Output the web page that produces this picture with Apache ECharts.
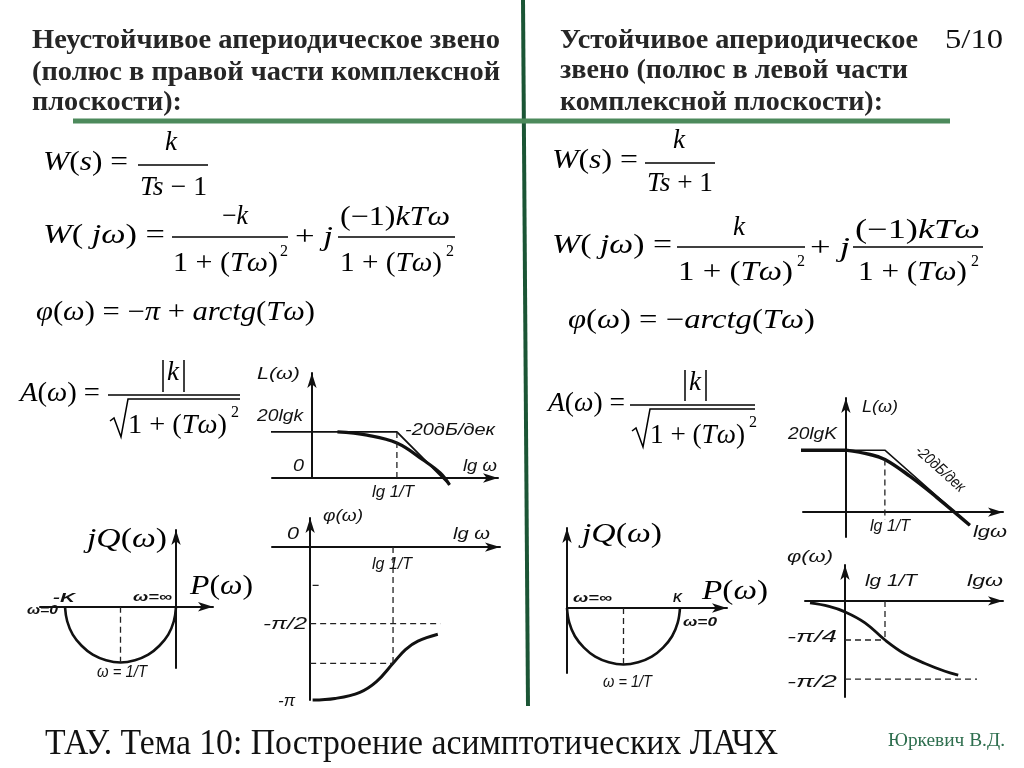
<!DOCTYPE html>
<html>
<head>
<meta charset="utf-8">
<script src="https://cdn.jsdelivr.net/npm/echarts@6/dist/echarts.min.js"></script>
<style>
  html, body { margin: 0; padding: 0; background: #fff; }
  #main { width: 1024px; height: 768px; }
</style>
</head>
<body>
<div id="main"></div>
<script>
// ---- данные ----
// неустойчивое звено (левая колонка)
const lafcUnstAsym  = [[-0.52, 1], [1, 1], [1.62, -0.15]];
const lafcUnstExact = [[0.3, 1], [0.65, 0.93], [1, 0.76], [1.31, 0.39], [1.51, 0.11], [1.62, -0.15]];
const lafcUnstGuide = [[1, 1], [1, 0]];

const phaseUnst = [[0.03, -1], [0.3, -0.99], [0.6, -0.95], [0.8, -0.88], [1, -0.76], [1.15, -0.67], [1.3, -0.615], [1.54, -0.57]];
const phaseUnstHalf  = [[0, -0.5], [1.57, -0.5]];
const phaseUnstThree = [[0, -0.76], [1, -0.76]];
const phaseUnstVert  = [[1, 0], [1, -0.76]];
const phaseUnstTick  = [[0.03, -0.25], [0.15, -0.25]];

const nyqUnst = [[-1, 0], [-0.98, -0.13], [-0.93, -0.25], [-0.85, -0.35], [-0.75, -0.43], [-0.63, -0.48], [-0.5, -0.5],
                 [-0.37, -0.48], [-0.25, -0.43], [-0.15, -0.35], [-0.07, -0.25], [-0.02, -0.13], [0, 0]];
const nyqUnstGuide = [[-0.5, 0], [-0.5, -0.5]];

// устойчивое звено (правая колонка)
const lafcStabFlat  = [[-1.64, 1], [0, 1]];
const lafcStabExact = [[0, 1], [0.62, 0.93], [1, 0.85], [1.64, 0.58], [2.33, 0.24], [3.18, -0.21]];
const lafcStabAsym  = [[0, 1], [1, 1], [3.18, -0.21]];
const lafcStabGuide = [[1, 0.85], [1, -0.12]];

const phaseStab = [[-0.875, -0.013], [-0.4, -0.035], [0, -0.07], [0.5, -0.14], [1, -0.25], [1.5, -0.34], [2, -0.4], [2.5, -0.45], [2.83, -0.475]];
const phaseStabQuarter = [[0, -0.25], [1, -0.25]];
const phaseStabVert    = [[1, 0], [1, -0.25]];
const phaseStabHalf    = [[0, -0.5], [3.3, -0.5]];

const nyqStab = [[0, 0], [0.02, -0.13], [0.07, -0.25], [0.15, -0.35], [0.25, -0.43], [0.37, -0.48], [0.5, -0.5],
                 [0.63, -0.48], [0.75, -0.43], [0.85, -0.35], [0.93, -0.25], [0.98, -0.13], [1, 0]];
const nyqStabGuide = [[0.5, 0], [0.5, -0.5]];

// подписи на графиках
const phaseUnstTicks = ['0', '-π/2', '-π'];
const phaseStabTicks = ['-π/4', '-π/2'];

// ---- вспомогательное ----
const SERIF = 'Liberation Serif';
const SANS = 'Liberation Sans';
const ctx = document.createElement('canvas').getContext('2d');
function measure(font, s) { ctx.font = font; return ctx.measureText(s).width; }

// обычный текст, при необходимости ужатый до нужной ширины
function txt(x, y, s, font, target, fill, extra) {
  const w = measure(font, s);
  return Object.assign({
    type: 'text', x: x, y: y, scaleX: target ? target / w : 1,
    style: { text: s, font: font, fill: fill || '#111', align: 'left', verticalAlign: 'middle' }
  }, extra || {});
}

// формула: буквы курсивом, цифры и знаки прямо
function mathText(x, y, str, size, target) {
  const up = '()0123456789=+−-, ';
  const toks = [];
  let cur = null;
  for (const ch of str) {
    const c = up.includes(ch) ? 'r' : 'i';
    if (!cur || cur.c !== c) { cur = { c: c, s: '' }; toks.push(cur); }
    cur.s += ch;
  }
  let w = 0;
  toks.forEach(t => { w += measure((t.c === 'i' ? 'italic ' : '') + size + 'px ' + SERIF, t.s); });
  return {
    type: 'text', x: x, y: y, scaleX: target ? target / w : 1,
    style: {
      text: toks.map(t => '{' + t.c + '|' + t.s + '}').join(''),
      rich: {
        i: { fontStyle: 'italic', fontSize: size, fontFamily: SERIF, fill: '#000' },
        r: { fontSize: size, fontFamily: SERIF, fill: '#000' }
      },
      align: 'left', verticalAlign: 'middle'
    }
  };
}
function hline(x1, x2, y, w) {
  return { type: 'line', shape: { x1: x1, y1: y, x2: x2, y2: y }, style: { stroke: '#000', lineWidth: w || 1.5 } };
}
function vline(x, y1, y2, w) {
  return { type: 'line', shape: { x1: x, y1: y1, x2: x, y2: y2 }, style: { stroke: '#000', lineWidth: w || 1.5 } };
}
const LAB = 'italic 16px ' + SANS;
const SMALL = 'bold italic 13px ' + SANS;
const TITLE = 'bold 28px ' + SERIF;

// ---- оси ----
const axisLineStyle = {
  onZero: true,
  symbol: ['none', 'arrow'],
  symbolSize: [7, 15],
  lineStyle: { color: '#111', width: 2 }
};
function axis(min, max, gi) {
  return {
    type: 'value', gridIndex: gi, min: min, max: max,
    axisLine: axisLineStyle, axisTick: { show: false },
    axisLabel: { show: false }, splitLine: { show: false }
  };
}
const grids = [
  { left: 272, top: 373, width: 226, height: 105 },
  { left: 272, top: 518, width: 228, height: 182 },
  { left: 40,  top: 530, width: 173, height: 138 },
  { left: 803, top: 398, width: 200, height: 139 },
  { left: 805, top: 565, width: 198, height: 132 },
  { left: 567, top: 528, width: 160, height: 145 }
];
const xAxes = [axis(-0.47, 2.19, 0), axis(-0.46, 2.29, 1), axis(-1.225, 0.333, 2),
               axis(-1.1, 4.03, 3), axis(-1.0, 3.95, 4), axis(0, 1.416, 5)];
const yAxes = [axis(0, 2.28, 0), axis(-1, 0.19, 1), axis(-0.55, 0.69, 2),
               axis(-0.40, 1.84, 3), axis(-0.615, 0.23, 4), axis(-0.575, 0.708, 5)];

function curve(data, gi, width, smooth) {
  return {
    type: 'line', data: data, xAxisIndex: gi, yAxisIndex: gi,
    smooth: smooth ? 0.4 : false, symbol: 'none', clip: false, silent: true,
    lineStyle: { color: '#111', width: width }
  };
}
function dashed(data, gi) {
  return {
    type: 'line', data: data, xAxisIndex: gi, yAxisIndex: gi,
    symbol: 'none', clip: false, silent: true,
    lineStyle: { color: '#222', width: 1.3, type: [6, 4] }
  };
}

const series = [
  curve(lafcUnstAsym, 0, 1.8), curve(lafcUnstExact, 0, 3.2, true), dashed(lafcUnstGuide, 0),
  curve(phaseUnst, 1, 3, true), dashed(phaseUnstHalf, 1), dashed(phaseUnstThree, 1),
  dashed(phaseUnstVert, 1), dashed(phaseUnstTick, 1),
  curve(nyqUnst, 2, 2.6, true), dashed(nyqUnstGuide, 2),
  curve(lafcStabFlat, 3, 3.5), curve(lafcStabExact, 3, 3.5, true), curve(lafcStabAsym, 3, 1.5),
  dashed(lafcStabGuide, 3),
  curve(phaseStab, 4, 2.8, true), dashed(phaseStabQuarter, 4), dashed(phaseStabVert, 4), dashed(phaseStabHalf, 4),
  curve(nyqStab, 5, 2.6, true), dashed(nyqStabGuide, 5)
];

// ---- текст слайда ----
const g = [
  // зелёные линии
  { type: 'line', shape: { x1: 523, y1: 0, x2: 528, y2: 706 }, style: { stroke: '#1b5535', lineWidth: 4 } },
  { type: 'line', shape: { x1: 73, y1: 121, x2: 950, y2: 121 }, style: { stroke: '#4d8a5c', lineWidth: 5 } },

  // заголовки
  txt(32, 40.5, 'Неустойчивое апериодическое звено', TITLE, 468, '#262626'),
  txt(32, 72.5, '(полюс в правой части комплексной', TITLE, 468, '#262626'),
  txt(32, 102.5, 'плоскости):', TITLE, 150, '#262626'),
  txt(560, 40.5, 'Устойчивое апериодическое', TITLE, 358, '#262626'),
  txt(560, 70.5, 'звено (полюс в левой части', TITLE, 348, '#262626'),
  txt(560, 102.5, 'комплексной плоскости):', TITLE, 323, '#262626'),
  txt(945, 41, '5/10', '27px ' + SERIF, 58, '#111'),

  // левые формулы
  mathText(43, 162.5, 'W(s) =', 27, 85),
  mathText(165, 142.5, 'k', 27),
  hline(138, 208, 165),
  mathText(140, 187.5, 'Ts − 1', 27, 67),

  mathText(43, 235.5, 'W( jω) =', 27, 122),
  mathText(222, 216.5, '−k', 27, 26),
  hline(172, 288, 237),
  mathText(173, 263.5, '1 + (Tω)', 27, 105),
  mathText(280, 252, '2', 16),
  mathText(295, 238, '+ j', 27, 38),
  mathText(340, 217.5, '(−1)kTω', 27, 110),
  hline(338, 455, 237),
  mathText(340, 263.5, '1 + (Tω)', 27, 102),
  mathText(446, 252, '2', 16),

  mathText(36, 312.5, 'φ(ω) = −π + arctg(Tω)', 27, 279),

  mathText(20, 393.5, 'A(ω) =', 27, 80),
  vline(163, 360, 392), vline(184, 360, 392),
  mathText(167, 372.5, 'k', 27),
  hline(108, 240, 395),
  { type: 'polyline', shape: { points: [[110, 421], [114, 418], [121, 437], [128, 399], [240, 399]] }, style: { stroke: '#000', lineWidth: 1.5, fill: null } },
  mathText(128, 425.5, '1 + (Tω)', 27, 99),
  mathText(231, 413, '2', 16),

  // правые формулы
  mathText(552, 160.5, 'W(s) =', 27, 86),
  mathText(673, 140.5, 'k', 27),
  hline(645, 715, 163),
  mathText(647, 183.5, 'Ts + 1', 27, 66),

  mathText(552, 245.5, 'W( jω) =', 27, 120),
  mathText(733, 227.5, 'k', 27),
  hline(677, 805, 247),
  mathText(678, 272.5, '1 + (Tω)', 27, 115),
  mathText(797, 262, '2', 16),
  mathText(810, 249, '+ j', 27, 40),
  mathText(855, 230.5, '(−1)kTω', 27, 125),
  hline(853, 983, 247),
  mathText(858, 272.5, '1 + (Tω)', 27, 109),
  mathText(971, 262, '2', 16),

  mathText(568, 320.5, 'φ(ω) = −arctg(Tω)', 27, 247),

  mathText(548, 404, 'A(ω) =', 27, 77),
  vline(685, 370, 401), vline(706, 370, 401),
  mathText(689, 383, 'k', 27),
  hline(630, 755, 405),
  { type: 'polyline', shape: { points: [[632, 431], [636, 428], [643, 447], [650, 409], [755, 409]] }, style: { stroke: '#000', lineWidth: 1.5, fill: null } },
  mathText(650, 436, '1 + (Tω)', 27, 95),
  mathText(749, 423, '2', 16),

  // подписи: ЛАЧХ неустойчивого
  txt(257, 375, 'L(ω)', LAB, 43),
  txt(257, 417, '20lgk', LAB, 46),
  txt(293, 467, '0', LAB, 11),
  txt(405, 431, '-20дБ/дек', LAB, 90),
  txt(463, 467, 'lg ω', LAB, 34),
  txt(372, 493, 'lg 1/T', LAB, 42),
  // ФЧХ неустойчивого
  txt(287, 535, phaseUnstTicks[0], LAB, 12),
  txt(323, 517, 'φ(ω)', LAB, 40),
  txt(453, 535, 'lg ω', LAB, 37),
  txt(372, 565, 'lg 1/T', LAB, 40),
  txt(263, 625, phaseUnstTicks[1], LAB, 44),
  txt(278, 702, phaseUnstTicks[2], LAB, 17),
  // годограф неустойчивого
  mathText(87, 540, 'jQ(ω)', 28, 80),
  mathText(190, 587, 'P(ω)', 28, 63),
  txt(53, 598, '-K', SMALL, 22),
  txt(133, 597, 'ω=∞', SMALL, 39),
  txt(27, 610, 'ω=0', SMALL, 31),
  txt(97, 673, 'ω = 1/T', LAB, 50),

  // ЛАЧХ устойчивого
  txt(862, 408, 'L(ω)', LAB, 36),
  txt(788, 435, '20lgK', LAB, 49),
  { type: 'text', x: 940, y: 469, rotation: -0.73, scaleX: 0.85,
    style: { text: '-20дБ/дек', font: LAB, fill: '#111', align: 'center', verticalAlign: 'middle' } },
  txt(870, 527, 'lg 1/T', LAB, 40),
  txt(973, 533, 'lgω', LAB, 34),
  // ФЧХ устойчивого
  txt(787, 558, 'φ(ω)', LAB, 46),
  txt(865, 582, 'lg 1/T', LAB, 52),
  txt(967, 582, 'lgω', LAB, 36),
  txt(787, 638, phaseStabTicks[0], LAB, 50),
  txt(787, 683, phaseStabTicks[1], LAB, 50),
  // годограф устойчивого
  mathText(582, 535, 'jQ(ω)', 28, 80),
  mathText(702, 592, 'P(ω)', 28, 66),
  txt(673, 598, 'K', SMALL, 9),
  txt(573, 598, 'ω=∞', SMALL, 39),
  txt(683, 622, 'ω=0', SMALL, 34),
  txt(603, 683, 'ω = 1/T', LAB, 49),

  // подвал
  txt(45, 745, 'ТАУ. Тема 10: Построение асимптотических ЛАЧХ', '36px ' + SERIF, 733, '#111'),
  txt(888, 741, 'Юркевич В.Д.', '19px ' + SERIF, 117, '#2f6f4f')
];

const myChart = echarts.init(document.getElementById('main'));
const option = {
  animation: false,
  grid: grids,
  xAxis: xAxes,
  yAxis: yAxes,
  series: series,
  graphic: g
};
myChart.setOption(option);
window.addEventListener('resize', function () { myChart.resize(); });
</script>
</body>
</html>
